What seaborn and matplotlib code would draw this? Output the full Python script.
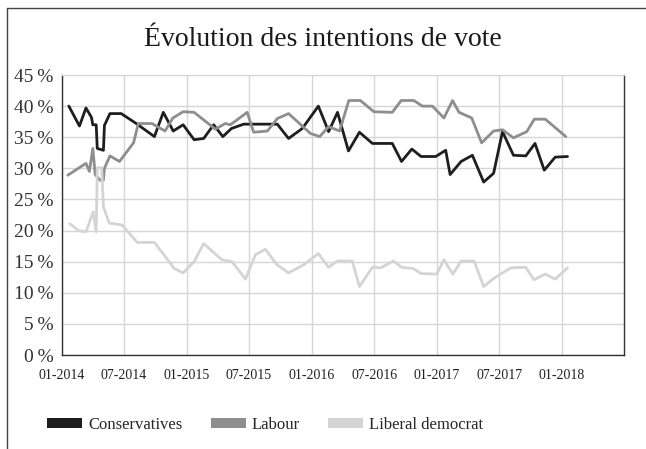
import numpy as np
import pandas as pd
import matplotlib
matplotlib.use("Agg")
import matplotlib.pyplot as plt
import matplotlib.dates as mdates
from matplotlib.patches import Patch
from matplotlib.lines import Line2D
import seaborn as sns

# ---- data (poll dates, vote share %) ----
con_dates = ["2014-01-21", "2014-02-21", "2014-03-12", "2014-03-28", "2014-04-01", "2014-04-11",
             "2014-04-14", "2014-05-02", "2014-05-05", "2014-05-21", "2014-06-23", "2014-08-06",
             "2014-09-28", "2014-10-24", "2014-11-22", "2014-12-21", "2015-01-22", "2015-02-19",
             "2015-03-20", "2015-04-16", "2015-05-11", "2015-06-16", "2015-09-02", "2015-09-22",
             "2015-10-25", "2015-12-04", "2016-01-20", "2016-02-19", "2016-03-16", "2016-04-17",
             "2016-05-19", "2016-06-26", "2016-08-23", "2016-09-19", "2016-10-19", "2016-11-15",
             "2016-12-28", "2017-01-26", "2017-02-08", "2017-03-12", "2017-04-14", "2017-05-17",
             "2017-06-15", "2017-07-11", "2017-08-12", "2017-09-17", "2017-10-14", "2017-11-10",
             "2017-12-12", "2018-01-17"]
con_values = [40.0, 36.8, 39.7, 38.2, 37.0, 37.0,
              33.2, 32.9, 36.9, 38.8, 38.8, 37.2,
              35.1, 39.0, 36.0, 37.0, 34.6, 34.8,
              37.0, 35.1, 36.4, 37.1, 37.1, 37.1,
              34.8, 36.4, 40.0, 35.9, 39.0, 32.8,
              35.8, 34.0, 34.0, 31.1, 33.1, 31.9,
              31.9, 32.9, 29.0, 31.1, 32.1, 27.8,
              29.2, 35.9, 32.1, 32.0, 34.0, 29.7,
              31.8, 31.9]

lab_dates = ["2014-01-18", "2014-03-12", "2014-03-22", "2014-04-01", "2014-04-08", "2014-04-22",
             "2014-05-02", "2014-05-05", "2014-05-21", "2014-06-18", "2014-07-29", "2014-08-12",
             "2014-09-21", "2014-10-29", "2014-11-21", "2014-12-21", "2015-01-22", "2015-03-25",
             "2015-04-23", "2015-05-08", "2015-06-26", "2015-07-15", "2015-08-24", "2015-09-22",
             "2015-10-25", "2015-12-28", "2016-01-24", "2016-02-19", "2016-03-22", "2016-04-18",
             "2016-05-22", "2016-06-30", "2016-08-23", "2016-09-18", "2016-10-25", "2016-11-19",
             "2016-12-18", "2017-01-21", "2017-02-15", "2017-03-06", "2017-04-12", "2017-05-11",
             "2017-06-15", "2017-07-11", "2017-08-12", "2017-09-20", "2017-10-12", "2017-11-13",
             "2018-01-12"]
lab_values = [28.9, 30.8, 29.5, 33.2, 29.0, 28.1,
              28.1, 30.0, 32.0, 31.1, 34.1, 37.2,
              37.2, 36.0, 38.1, 39.1, 39.0, 36.3,
              37.2, 37.0, 39.0, 35.8, 36.0, 38.0,
              38.8, 35.6, 35.1, 36.7, 36.0, 40.9,
              40.9, 39.1, 39.0, 40.9, 40.9, 40.0,
              40.0, 38.1, 40.9, 39.0, 38.1, 34.1,
              36.0, 36.2, 34.9, 35.9, 37.9, 37.9,
              35.1]

ld_dates = ["2014-01-24", "2014-02-18", "2014-03-12", "2014-04-02", "2014-04-11", "2014-04-14",
            "2014-04-27", "2014-05-02", "2014-05-19", "2014-06-25", "2014-08-09", "2014-09-28",
            "2014-11-25", "2014-12-21", "2015-01-22", "2015-02-19", "2015-04-13", "2015-05-13",
            "2015-06-21", "2015-07-20", "2015-08-18", "2015-09-21", "2015-10-25", "2015-12-08",
            "2016-01-20", "2016-02-19", "2016-03-15", "2016-04-28", "2016-05-19", "2016-06-26",
            "2016-07-20", "2016-08-26", "2016-09-19", "2016-10-23", "2016-11-15", "2016-12-31",
            "2017-01-21", "2017-02-16", "2017-03-12", "2017-04-19", "2017-05-17", "2017-06-15",
            "2017-08-04", "2017-09-17", "2017-10-11", "2017-11-13", "2017-12-12", "2018-01-17"]
ld_values = [21.1, 20.0, 19.8, 23.0, 19.8, 30.1,
             30.1, 23.8, 21.2, 20.9, 18.1, 18.1,
             13.9, 13.2, 15.0, 17.9, 15.3, 15.0,
             12.2, 16.1, 17.0, 14.5, 13.2, 14.5,
             16.3, 14.1, 15.1, 15.1, 11.0, 14.1,
             14.0, 15.1, 14.1, 13.9, 13.1, 13.0,
             15.3, 13.0, 15.1, 15.1, 11.0, 12.3,
             14.0, 14.1, 12.1, 13.0, 12.2, 14.0]

parties = ["Conservatives", "Labour", "Liberal democrat"]
party_colors = ["#1e1e1e", "#8e8e8e", "#d4d4d4"]
x_ticks = ["2014-01-01", "2014-07-01", "2015-01-01", "2015-07-01", "2016-01-01",
           "2016-07-01", "2017-01-01", "2017-07-01", "2018-01-01"]
y_ticks = [0, 5, 10, 15, 20, 25, 30, 35, 40, 45]

# ---- long table for seaborn ----
df = pd.concat([
    pd.DataFrame({"date": pd.to_datetime(d), "share": v, "party": p})
    for d, v, p in zip([con_dates, lab_dates, ld_dates],
                       [con_values, lab_values, ld_values], parties)
], ignore_index=True)

sns.set_style("white")
plt.rcParams['font.family'] = ['Liberation Serif', 'DejaVu Serif']

fig = plt.figure(figsize=(6.46, 4.49), dpi=100)
ax = fig.add_axes([62 / 646, 1 - 355 / 449, (624 - 62) / 646, (355 - 75) / 449])

sns.lineplot(data=df, x="date", y="share", hue="party", hue_order=parties,
             palette=party_colors, estimator=None, linewidth=2.0, legend=False, ax=ax)

# axes ranges / ticks
ax.set_xlim(pd.Timestamp("2014-01-01"), pd.Timestamp("2018-07-01"))
ax.set_ylim(0, 45)
ax.set_xticks(pd.to_datetime(x_ticks))
ax.xaxis.set_major_formatter(mdates.DateFormatter("%m-%Y"))
ax.set_yticks(y_ticks)
ax.set_yticklabels([f"{v}\u2009%" for v in y_ticks])
ax.set_xlabel("")
ax.set_ylabel("")

ax.grid(True, color="#d6d6d6", linewidth=1.0)
ax.set_axisbelow(True)
ax.tick_params(axis="x", length=0, pad=10, labelsize=10, colors="#222222")
ax.tick_params(axis="y", length=4, width=0.8, pad=2, labelsize=14, colors="#333333")

for side in ["left", "bottom", "right"]:
    ax.spines[side].set_color("#333333")
    ax.spines[side].set_linewidth(1.0)
ax.spines["top"].set_color("#d6d6d6")

# title
fig.text(0.5, 1 - 40 / 449, "Évolution des intentions de vote",
         ha="center", va="center", fontsize=20, color="#1a1a1a")

# legend
handles = [Patch(facecolor=c, edgecolor="none") for c in party_colors]
fig.legend(handles, parties, loc="center", bbox_to_anchor=(265 / 646, 1 - 425 / 449),
           ncol=3, frameon=False, fontsize=12, handlelength=2.1, handleheight=0.55,
           handletextpad=0.35, columnspacing=1.7)

# outer frame (left and top edges only)
fig.add_artist(Line2D([7 / 646, 7 / 646], [0, 1 - 8 / 449], transform=fig.transFigure,
                      color="#444444", linewidth=1.0))
fig.add_artist(Line2D([7 / 646, 1], [1 - 8 / 449, 1 - 8 / 449], transform=fig.transFigure,
                      color="#444444", linewidth=1.0))

fig.savefig("out.png", dpi=100)
